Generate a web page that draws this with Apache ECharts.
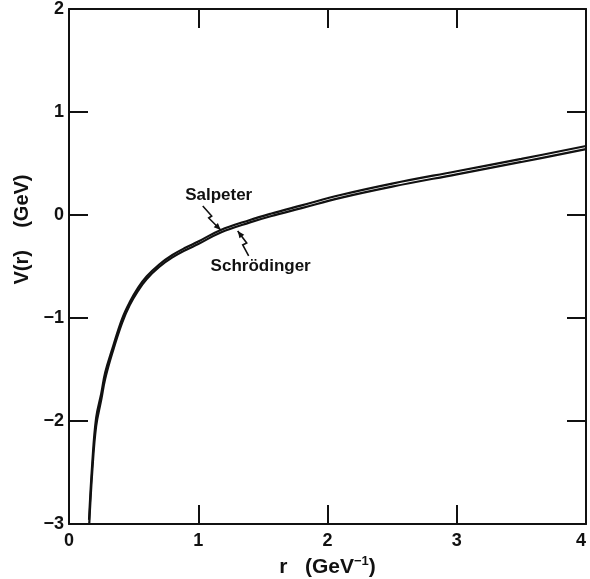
<!DOCTYPE html>
<html>
<head>
<meta charset="utf-8">
<script src="https://cdn.jsdelivr.net/npm/echarts@6/dist/echarts.min.js"></script>
<style>
    html, body { margin: 0; padding: 0; background: #fff; }
    #chart { width: 590px; height: 579px; }
</style>
</head>
<body>
<div id="chart"></div>
<script>
/* values: r in GeV^-1, V(r) in GeV */
var rValues = [0.155, 0.18, 0.21, 0.25, 0.28, 0.335, 0.41, 0.47, 0.535, 0.6, 0.7, 0.8, 0.9, 1.0, 1.17, 1.4, 1.56, 1.8, 2.1, 2.5, 3.0, 3.5, 4.0];
var salpeterV = [-2.96, -2.41, -1.97, -1.73, -1.53, -1.30, -1.01, -0.845, -0.705, -0.597, -0.478, -0.388, -0.318, -0.258, -0.148, -0.048, 0.012, 0.093, 0.194, 0.305, 0.425, 0.545, 0.67];
var schrodingerV = [-3.04, -2.49, -2.05, -1.79, -1.59, -1.34, -1.05, -0.875, -0.735, -0.623, -0.502, -0.412, -0.342, -0.282, -0.172, -0.072, -0.012, 0.067, 0.166, 0.275, 0.395, 0.515, 0.64];

var xTicks = [0, 1, 2, 3, 4];
var yTicks = [-3, -2, -1, 0, 1, 2];

/* annotation labels and their zigzag pointers, in data units */
var salpeterLabel = {text: 'Salpeter', at: [1.158, 0.194]};
var schrodingerLabel = {text: 'Schrödinger', at: [1.483, -0.495]};
var salpeterBolt = [[1.035, 0.087], [1.104, -0.010], [1.081, -0.029], [1.174, -0.146]];
var schrodingerBolt = [[1.390, -0.398], [1.344, -0.291], [1.375, -0.272], [1.305, -0.155]];

var ink = '#111';
var font = 'Liberation Sans';

function pairs(xs, ys) {
    var out = [];
    for (var i = 0; i < xs.length; i++) {
        out.push([xs[i], ys[i]]);
    }
    return out;
}

function minus(v) {
    return String(v).replace('-', '\u2212');
}

var chart = echarts.init(document.getElementById('chart'), null, {renderer: 'canvas'});

var frameAxis = {
    type: 'value',
    interval: 1,
    axisLine: {show: true, onZero: false, lineStyle: {color: ink, width: 2}},
    axisTick: {show: true, inside: true, length: 19, lineStyle: {color: ink, width: 2}},
    splitLine: {show: false}
};

var tickLabel = {color: ink, fontFamily: font, fontSize: 18, fontWeight: 'bold', formatter: minus};

var option = {
    animation: false,
    backgroundColor: '#fff',
    grid: {left: 69, right: 4, top: 9, bottom: 55, containLabel: false, outerBoundsMode: 'none'},
    xAxis: [
        Object.assign({}, frameAxis, {
            position: 'bottom',
            min: xTicks[0],
            max: xTicks[xTicks.length - 1],
            axisLabel: Object.assign({}, tickLabel, {margin: 8, alignMaxLabel: 'right'}),
            name: 'r   (GeV{sup|\u22121})',
            nameLocation: 'middle',
            nameGap: 30,
            nameTextStyle: {
                color: ink, fontFamily: font, fontSize: 21, fontWeight: 'bold',
                rich: {sup: {color: ink, fontFamily: font, fontSize: 13, fontWeight: 'bold', padding: [0, 0, 12, 0]}}
            }
        }),
        Object.assign({}, frameAxis, {
            position: 'top',
            min: xTicks[0],
            max: xTicks[xTicks.length - 1],
            axisLabel: {show: false}
        })
    ],
    yAxis: [
        Object.assign({}, frameAxis, {
            position: 'left',
            min: yTicks[0],
            max: yTicks[yTicks.length - 1],
            axisLabel: Object.assign({}, tickLabel, {margin: 5}),
            name: 'V(r)    (GeV)',
            nameLocation: 'middle',
            nameGap: 29,
            nameRotate: 90,
            nameTextStyle: {color: ink, fontFamily: font, fontSize: 20, fontWeight: 'bold', padding: [0, 0, 0, 74]}
        }),
        Object.assign({}, frameAxis, {
            position: 'right',
            min: yTicks[0],
            max: yTicks[yTicks.length - 1],
            axisLabel: {show: false}
        })
    ],
    series: [
        {
            name: 'Salpeter',
            type: 'line',
            data: pairs(rValues, salpeterV),
            smooth: 0.4,
            symbol: 'none',
            clip: true,
            lineStyle: {color: ink, width: 2.2}
        },
        {
            name: 'Schrödinger',
            type: 'line',
            data: pairs(rValues, schrodingerV),
            smooth: 0.4,
            symbol: 'none',
            clip: true,
            lineStyle: {color: ink, width: 2.2}
        }
    ]
};

chart.setOption(option);

/* annotations placed through the axes */
function toPx(p) {
    return chart.convertToPixel({xAxisIndex: 0, yAxisIndex: 0}, p);
}

function bolt(points) {
    var px = points.map(toPx);
    var a = px[px.length - 2];
    var b = px[px.length - 1];
    var dx = b[0] - a[0];
    var dy = b[1] - a[1];
    var len = Math.sqrt(dx * dx + dy * dy);
    var ux = dx / len;
    var uy = dy / len;
    var head = [
        b,
        [b[0] - ux * 7 - uy * 3, b[1] - uy * 7 + ux * 3],
        [b[0] - ux * 7 + uy * 3, b[1] - uy * 7 - ux * 3]
    ];
    return [
        {type: 'polyline', shape: {points: px}, style: {stroke: ink, lineWidth: 1.6, fill: null}, silent: true},
        {type: 'polygon', shape: {points: head}, style: {fill: ink}, silent: true}
    ];
}

function label(item) {
    var p = toPx(item.at);
    return {
        type: 'text',
        x: p[0],
        y: p[1],
        silent: true,
        style: {
            text: item.text,
            fill: ink,
            font: 'bold 17px "' + font + '"',
            align: 'center',
            verticalAlign: 'middle'
        }
    };
}

chart.setOption({
    graphic: [label(salpeterLabel), label(schrodingerLabel)]
        .concat(bolt(salpeterBolt))
        .concat(bolt(schrodingerBolt))
});
</script>
</body>
</html>
